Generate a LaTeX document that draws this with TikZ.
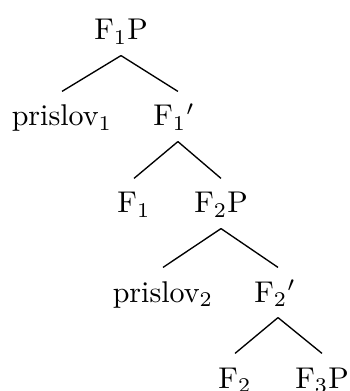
\documentclass[tikz,border=0pt]{standalone}
\begin{document}
\begin{tikzpicture}[x=0.33333pt,y=-0.33333pt,
  lbl/.style={anchor=base,inner xsep=0pt,inner ysep=4.5pt,text height=6.83pt,text depth=0.5pt},
  edge/.style={draw=black,line width=0.45pt}]
\useasboundingbox (0,0) rectangle (349,391);
\node[lbl] (a) at (121,40) {F$_1$P};
\node[lbl] (b) at (62,126) {prislov$_1$};
\node[lbl] (c) at (174,126) {F$_1{}'$};
\node[lbl] (d) at (134,213) {F$_1$};
\node[lbl] (e) at (221,213) {F$_2$P};
\node[lbl] (f) at (163,302) {prislov$_2$};
\node[lbl] (g) at (275,302) {F$_2{}'$};
\node[lbl] (h) at (235,388) {F$_2$};
\node[lbl] (i) at (322,388) {F$_3$P};
\draw[edge] (a.south) -- (b.north);
\draw[edge] (a.south) -- ([xshift=1.3pt]c.north);
\draw[edge] ([xshift=1.3pt]c.south) -- (d.north);
\draw[edge] ([xshift=1.3pt]c.south) -- (e.north);
\draw[edge] (e.south) -- (f.north);
\draw[edge] (e.south) -- ([xshift=1pt]g.north);
\draw[edge] ([xshift=1pt]g.south) -- (h.north);
\draw[edge] ([xshift=1pt]g.south) -- (i.north);
\end{tikzpicture}
\end{document}
